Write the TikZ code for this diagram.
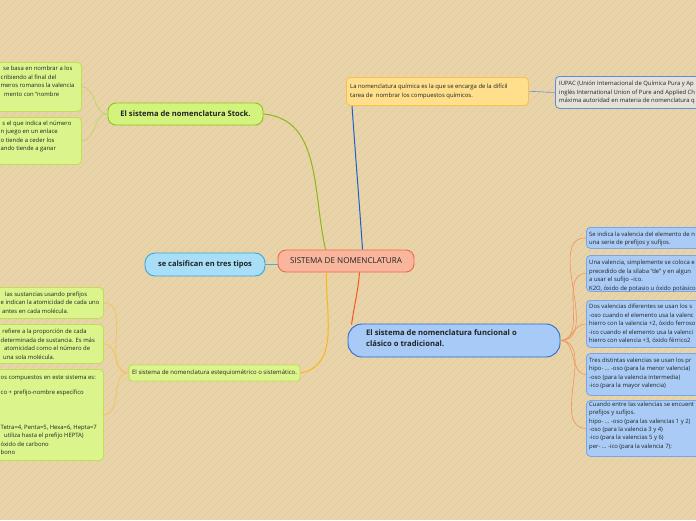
\documentclass[tikz,border=0pt]{standalone}
\usepackage{fontspec}
\setmainfont{Open Sans}
\usetikzlibrary{calc}
\definecolor{bg}{RGB}{233,211,168}
\definecolor{stripe}{RGB}{225,202,158}
\definecolor{txt}{RGB}{30,36,36}
\definecolor{ctrF}{RGB}{249,182,157}
\definecolor{ctrB}{RGB}{236,104,70}
\definecolor{cyF}{RGB}{168,222,246}
\definecolor{cyB}{RGB}{52,168,224}
\definecolor{limeF}{RGB}{212,243,124}
\definecolor{limeB}{RGB}{143,195,31}
\definecolor{lime2F}{RGB}{219,245,140}
\definecolor{lime2B}{RGB}{190,222,85}
\definecolor{orF}{RGB}{255,222,140}
\definecolor{orB}{RGB}{246,194,76}
\definecolor{iuF}{RGB}{229,225,216}
\definecolor{iuB}{RGB}{92,143,214}
\definecolor{fnF}{RGB}{168,202,247}
\definecolor{fnB}{RGB}{44,107,210}
\definecolor{rbF}{RGB}{170,203,245}
\definecolor{rbB}{RGB}{120,166,232}
\definecolor{cGreen}{RGB}{140,184,26}
\definecolor{cBlue}{RGB}{26,95,204}
\definecolor{cRed}{RGB}{242,90,34}
\definecolor{cYel}{RGB}{248,184,24}
\definecolor{cCy}{RGB}{69,174,224}
\definecolor{cOr}{RGB}{243,146,94}
\definecolor{cLime}{RGB}{184,214,96}
\definecolor{cYel2}{RGB}{245,194,85}
\definecolor{cIu}{RGB}{109,148,201}
\tikzset{
  boxbase/.style={line width=0.8pt, inner sep=0pt, text=txt},
  ctrbox/.style={boxbase, draw=ctrB, fill=ctrF, rounded corners=8pt, line width=0.9pt, font=\fontsize{8.1}{9}\selectfont},
  cybox/.style={boxbase, draw=cyB, fill=cyF, rounded corners=10pt, line width=0.9pt, font=\fontsize{7.5}{9}\selectfont\bfseries},
  limebox/.style={boxbase, draw=limeB, fill=limeF, rounded corners=8pt, line width=0.9pt, font=\fontsize{7.6}{9}\selectfont\bfseries},
  lime2box/.style={boxbase, draw=lime2B, fill=lime2F, rounded corners=4pt, anchor=north west},
  orbox/.style={boxbase, draw=orB, fill=orF, rounded corners=4pt, anchor=north west},
  iubox/.style={boxbase, draw=iuB, fill=iuF, rounded corners=4pt, anchor=north west},
  fnbox/.style={boxbase, draw=fnB, fill=fnF, rounded corners=14pt, line width=0.9pt},
  rbbox/.style={boxbase, draw=rbB, fill=rbF, rounded corners=4pt, anchor=north west},
  esbox/.style={boxbase, draw=lime2B, fill=lime2F, rounded corners=3pt, font=\fontsize{6}{8}\selectfont},
  body/.style={anchor=north west, align=left, inner sep=0pt, text=txt, font=\fontsize{5.9}{8.5}\selectfont},
  conn/.style={line width=1pt},
  thin/.style={line width=0.6pt},
}
\begin{document}
\begin{tikzpicture}[x=1pt,y=-1pt]
\useasboundingbox (0,0) rectangle (696,520);
\fill[bg] (0,0) rectangle (696,520);
\clip (0,0) rectangle (696,520);
\foreach \i in {-528,-520,...,704} \draw[stripe, line width=0.4pt] (\i,520) -- ({\i+520},0);

% ---- nodes ----
\node[ctrbox, minimum width=136pt, minimum height=22pt] (center) at (346,261) {SISTEMA DE NOMENCLATURA};
\node[cybox, minimum width=120pt, minimum height=23pt] (tipos) at (205,264.5) {se calsifican en tres tipos};
\node[limebox, minimum width=155pt, minimum height=22pt] (stock) at (185.5,114) {El sistema de nomenclatura Stock.};
\node[fnbox, minimum width=212pt, minimum height=33pt] (func) at (454,340.5) {};
\node[body, font=\fontsize{7.65}{11}\selectfont\bfseries] (funct) at (366,329.5) {El sistema de nomenclatura funcional o\\clásico o tradicional.};
\node[esbox, minimum width=171pt, minimum height=16pt] (este) at (214.5,373) {El sistema de nomenclatura estequiométrico o sistemático.};

% orange + IUPAC
\node[orbox, minimum width=182pt, minimum height=28pt] (quim) at (346,77) {};
\node[body] (quimt) at (350,84) {La nomenclatura química es la que se encarga de la difícil\\tarea de\ \ nombrar los compuestos químicos.};
\node[iubox, minimum width=170pt, minimum height=32pt] (iupac) at (555,76) {};
\node[body] (iupact) at (559,81.2) {IUPAC (Unión Internacional de Química Pura y Ap\\inglés International Union of Pure and Applied Ch\\máxima autoridad en materia de nomenclatura q};

% Stock children
\node[lime2box, minimum width=111pt, minimum height=49pt] (st1) at (-30,62) {};
\node[body] (st1t) at (0.5,66.2) {\hspace{2.5pt}se basa en nombrar a los\\cribiendo al final del\\meros romanos la valencia\\\hspace{3.5pt}mento con “nombre};
\node[lime2box, minimum width=111pt, minimum height=47pt] (st2) at (-30,117) {};
\node[body] (st2t) at (0.5,120.7) {\hspace{1.8pt}s el que indica el número\\n juego en un enlace\\o tiende a ceder los\\ando tiende a ganar};

% estequiometrico children
\node[lime2box, minimum width=133pt, minimum height=31pt] (es1) at (-30,287) {};
\node[body] (es1t) at (0.5,291.7) {\hspace{4.5pt}las sustancias usando prefijos\\e indican la atomicidad de cada uno\\\hspace{1.5pt}antes en cada molécula.};
\node[lime2box, minimum width=133pt, minimum height=39pt] (es2) at (-30,324) {};
\node[body] (es2t) at (0.5,329) {\hspace{1.8pt}refiere a la proporción de cada\\determinada de sustancia. Es más\\\hspace{3.5pt}atomicidad como el número de\\\hspace{2.5pt}una sola molécula.};
\node[lime2box, minimum width=133pt, minimum height=91pt] (es3) at (-30,369) {};
\node[body] (es3a) at (0.5,375) {os compuestos en este sistema es:\\[6.5pt]co + prefijo-nombre específico};
\node[body] (es3b) at (0.5,425) {Tetra=4, Penta=5, Hexa=6, Hepta=7\\\hspace{3.5pt}utiliza hasta el prefijo HEPTA)\\óxido de carbono\\bono};

% functional children
\node[rbbox, minimum width=140pt, minimum height=21pt] (fa) at (586,227) {};
\node[body] (fat) at (589,231.7) {Se indica la valencia del elemento de n\\una serie de prefijos y sufijos.};
\node[rbbox, minimum width=140pt, minimum height=36pt] (fb) at (586,255) {};
\node[body] (fbt) at (589,260) {Una valencia, simplemente se coloca e\\precedido de la sílaba “de” y en algun\\a usar el sufijo –ico.\\K2O, óxido de potasio u óxido potásico};
\node[rbbox, minimum width=140pt, minimum height=47pt] (fc) at (586,300) {};
\node[body] (fct) at (589,304) {Dos valencias diferentes se usan los s\\-oso cuando el elemento usa la valenc\\hierro con la valencia +2, óxido ferroso\\-ico cuando el elemento usa la valenci\\hierro con valencia +3, óxido férrico2};
\node[rbbox, minimum width=140pt, minimum height=42pt] (fd) at (586,353) {};
\node[body] (fdt) at (589,357.7) {Tres distintas valencias se usan los pr\\hipo- … -oso (para la menor valencia)\\-oso (para la valencia intermedia)\\-ico (para la mayor valencia)};
\node[rbbox, minimum width=140pt, minimum height=56pt] (fe) at (586,400) {};
\node[body, font=\fontsize{5.9}{8.35}\selectfont] (fet) at (589,401.7) {Cuando entre las valencias se encuent\\prefijos y sufijos.\\hipo- … -oso (para las valencias 1 y 2)\\-oso (para la valencia 3 y 4)\\-ico (para la valencias 5 y 6)\\per- … -ico (para la valencia 7):};

% ---- connectors ----
\draw[conn, cGreen] (stock.east) to[out=-5, in=103] ($(center.north west)+(48,0)$);
\draw[conn, cBlue] ($(quim.south west)+(6,0)$) to[out=-86, in=94] ($(center.north west)+(85,0)$);
\draw[conn, cRed] ($(center.south west)+(82,0)$) to[out=-95, in=82] ($(func.north west)+(4,1)$);
\draw[conn, cYel] ($(center.south west)+(49,0)$) to[out=-92, in=10] (este.east);
\draw[conn, cCy] (tipos.east) -- (center.west |- tipos.east);
\draw[thin, cIu] (quim.east) to[out=0, in=180] (iupac.west);
\draw[thin, cLime] (stock.west) to[out=180, in=0] (st1.east);
\draw[thin, cLime] (stock.west) to[out=180, in=0] (st2.east);
\draw[thin, cYel2] (este.west) to[out=180, in=0] (es1.east);
\draw[thin, cYel2] (este.west) to[out=180, in=0] (es2.east);
\draw[thin, cYel2] (este.west) to[out=180, in=0] (es3.east);
\foreach \n in {fa,fb,fc,fd,fe} \draw[thin, cOr] (func.east) to[out=0, in=180] (\n.west);
\end{tikzpicture}
\end{document}
